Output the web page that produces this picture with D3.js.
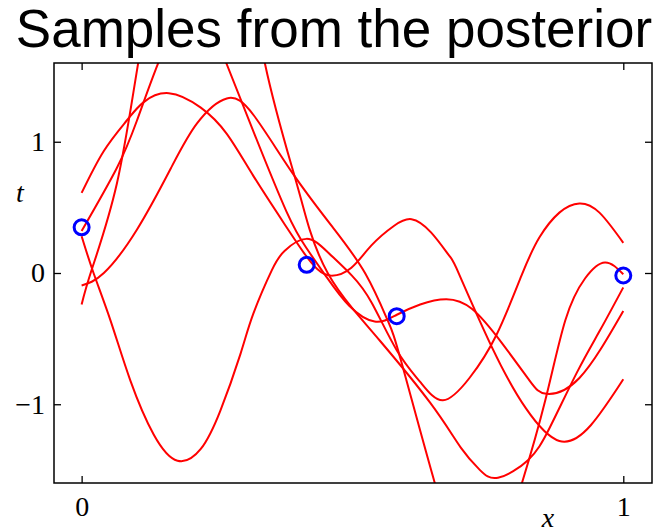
<!DOCTYPE html>
<html>
<head>
<meta charset="utf-8">
<script src="https://cdn.jsdelivr.net/npm/d3@7"></script>
<style>
  html, body { margin: 0; padding: 0; background: #fff; }
  svg { display: block; }
</style>
</head>
<body>
<svg id="chart" width="656" height="532"></svg>
<script>
// ---------------- data ----------------
const titleText = "Samples from the posterior";
const xTicks = [0, 1];
const yTicks = [-1, 0, 1];
const xDomain = [-0.051, 1.053];
const yDomain = [-1.6, 1.6];

// observed data points (x, t)
const obsX = [0, 0.4155, 0.5817, 1.0];
const obsT = [0.348, 0.062, -0.329, -0.019];

// posterior samples, each as [x, t] pairs
const sample1 = [[0, 0.61], [0.041, 0.93], [0.083, 1.16], [0.114, 1.30], [0.161, 1.37], [0.22, 1.26],
  [0.268, 1.06], [0.317, 0.74], [0.375, 0.37], [0.411, 0.15], [0.435, 0.03], [0.461, -0.02],
  [0.498, 0.04], [0.535, 0.21], [0.577, 0.36], [0.609, 0.41], [0.645, 0.31], [0.679, 0.13],
  [0.697, -0.01], [0.758, -0.57], [0.82, -1.03], [0.882, -1.28], [0.94, -1.16], [1.0, -0.81]];

const sample2 = [[0, 0.32], [0.065, 0.80], [0.102, 1.16], [0.141, 1.595], [0.175, 1.88], [0.204, 1.95],
  [0.235, 1.88], [0.267, 1.6], [0.318, 1.07], [0.378, 0.47], [0.415, 0.19], [0.452, -0.03],
  [0.494, -0.25], [0.541, -0.37], [0.581, -0.32], [0.625, -0.24], [0.673, -0.20], [0.721, -0.275],
  [0.777, -0.54], [0.827, -0.82], [0.858, -0.92], [0.919, -0.80], [1.0, -0.29]];

const sample3 = [[0, 0.28], [0.022, 0.0], [0.054, -0.37], [0.090, -0.82], [0.133, -1.23], [0.177, -1.43],
  [0.220, -1.34], [0.256, -1.05], [0.293, -0.62], [0.317, -0.31], [0.351, 0.02], [0.375, 0.17],
  [0.415, 0.26], [0.455, 0.156], [0.499, -0.02], [0.536, -0.23], [0.582, -0.59], [0.625, -0.83],
  [0.667, -0.97], [0.716, -0.80], [0.766, -0.47], [0.812, -0.02], [0.845, 0.27], [0.882, 0.46],
  [0.919, 0.53], [0.956, 0.46], [1.0, 0.23]];

const sample4 = [[0, -0.24], [0.019, 0.03], [0.065, 0.68], [0.104, 1.59], [0.15, 2.5], [0.22, 3.1],
  [0.29, 2.6], [0.3386, 1.593], [0.394, 0.726], [0.4216, 0.323], [0.4548, -0.004], [0.50, -0.27],
  [0.5515, -0.52], [0.6437, -0.99], [0.70, -1.33], [0.735, -1.50], [0.7687, -1.56], [0.824, -1.426],
  [0.8646, -1.175], [0.9145, -0.757], [0.957, -0.437], [1.0, -0.11]];

const sample5 = [[0, -0.095], [0.041, 0.0], [0.102, 0.33], [0.165, 0.80], [0.213, 1.14],
  [0.268, 1.33], [0.318, 1.20], [0.390, 0.757], [0.464, 0.346], [0.5237, -0.004], [0.565, -0.361],
  [0.591, -0.688], [0.652, -1.60], [0.69, -2.03], [0.732, -2.2], [0.775, -2.03], [0.8129, -1.60],
  [0.856, -0.97], [0.893, -0.36], [0.9293, -0.042], [0.9662, 0.08], [1.0, -0.01]];

const samples = [sample1, sample2, sample3, sample4, sample5];

// ---------------- layout ----------------
const svg = d3.select("#chart");
const plot = { left: 54, right: 652, top: 63, bottom: 483 };
const x = d3.scaleLinear().domain(xDomain).range([plot.left, plot.right]);
const y = d3.scaleLinear().domain(yDomain).range([plot.bottom, plot.top]);

svg.append("defs").append("clipPath").attr("id", "clip")
  .append("rect")
  .attr("x", plot.left).attr("y", plot.top)
  .attr("width", plot.right - plot.left).attr("height", plot.bottom - plot.top);

// title
svg.append("text")
  .attr("x", 334).attr("y", 47)
  .attr("text-anchor", "middle")
  .style("font-family", "'Liberation Sans', Arial, Helvetica, sans-serif")
  .style("font-size", "53px")
  .text(titleText);

// sample curves
const line = d3.line()
  .x(d => x(d[0]))
  .y(d => y(d[1]))
  .curve(d3.curveNatural);

svg.append("g").attr("clip-path", "url(#clip)")
  .selectAll("path")
  .data(samples)
  .join("path")
  .attr("d", line)
  .attr("fill", "none")
  .attr("stroke", "#ff0000")
  .attr("stroke-width", 2);

// observations
svg.append("g")
  .selectAll("circle")
  .data(obsX.map((v, i) => [v, obsT[i]]))
  .join("circle")
  .attr("cx", d => x(d[0]))
  .attr("cy", d => y(d[1]))
  .attr("r", 7.5)
  .attr("fill", "none")
  .attr("stroke", "#0000ff")
  .attr("stroke-width", 3);

// axes (inward ticks)
const tickFont = "'Liberation Serif', 'Times New Roman', serif";
function styleAxis(g, showLabels) {
  g.select(".domain").remove();
  g.selectAll(".tick line").attr("stroke", "#000").attr("stroke-width", 1.3);
  g.selectAll(".tick text")
    .style("font-family", tickFont)
    .style("font-size", "28px")
    .attr("fill", "#000");
  if (!showLabels) g.selectAll(".tick text").remove();
}

svg.append("g").attr("transform", `translate(0,${plot.bottom})`)
  .call(d3.axisBottom(x).tickValues(xTicks).tickFormat(d3.format("d")).tickSize(-7).tickPadding(13))
  .call(g => styleAxis(g, true));
svg.append("g").attr("transform", `translate(0,${plot.top})`)
  .call(d3.axisTop(x).tickValues(xTicks).tickSize(-7))
  .call(g => styleAxis(g, false));
svg.append("g").attr("transform", `translate(${plot.left},0)`)
  .call(d3.axisLeft(y).tickValues(yTicks).tickFormat(d3.format("d")).tickSize(-7).tickPadding(9))
  .call(g => styleAxis(g, true));
svg.append("g").attr("transform", `translate(${plot.right},0)`)
  .call(d3.axisRight(y).tickValues(yTicks).tickSize(-7))
  .call(g => styleAxis(g, false));

// frame
svg.append("rect")
  .attr("x", plot.left).attr("y", plot.top)
  .attr("width", plot.right - plot.left).attr("height", plot.bottom - plot.top)
  .attr("fill", "none").attr("stroke", "#000").attr("stroke-width", 1.5);

// axis labels
svg.append("text")
  .attr("x", 20).attr("y", 202)
  .attr("text-anchor", "middle")
  .style("font-family", tickFont).style("font-style", "italic").style("font-size", "28px")
  .text("t");
svg.append("text")
  .attr("x", 548).attr("y", 527)
  .attr("text-anchor", "middle")
  .style("font-family", tickFont).style("font-style", "italic").style("font-size", "28px")
  .text("x");
</script>
</body>
</html>
